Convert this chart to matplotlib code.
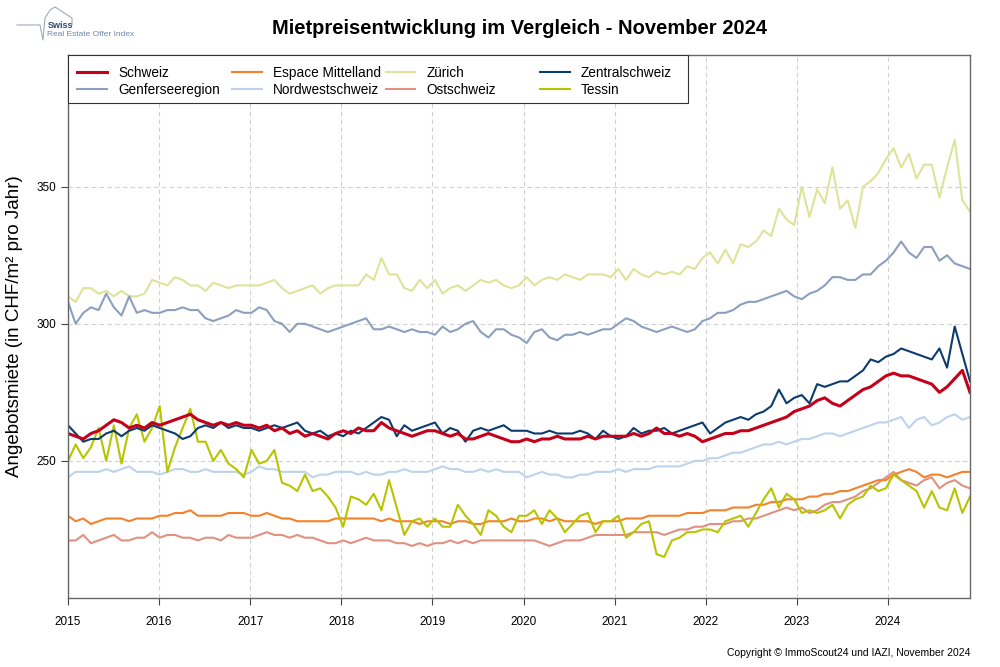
import numpy as np
import matplotlib
matplotlib.use("Agg")
import matplotlib.pyplot as plt
from matplotlib.lines import Line2D
from matplotlib.patches import Rectangle
from matplotlib.legend import Legend

plt.rcParams['font.family'] = ['Liberation Sans', 'DejaVu Sans']

# monthly values, Jan 2015 .. Nov 2024 (CHF/m2 per year)
schweiz = [
    260, 259, 258, 260, 261, 263, 265, 264, 262, 263, 262, 264,
    263, 264, 265, 266, 267, 265, 264, 263, 264, 263, 264, 263,
    263, 262, 263, 261, 262, 260, 261, 259, 260, 259, 258, 260,
    261, 260, 262, 261, 261, 264, 262, 261, 260, 259, 260, 261,
    261, 260, 259, 260, 258, 258, 259, 260, 259, 258, 257, 257,
    258, 257, 258, 258, 259, 258, 258, 258, 259, 258, 259, 259,
    259, 259, 260, 259, 260, 262, 260, 260, 259, 260, 259, 257,
    258, 259, 260, 260, 261, 261, 262, 263, 264, 265, 266, 268,
    269, 270, 272, 273, 271, 270, 272, 274, 276, 277, 279, 281,
    282, 281, 281, 280, 279, 278, 275, 277, 280, 283, 275]

genf = [
    308, 300, 304, 306, 305, 311, 306, 303, 310, 304, 305, 304,
    304, 305, 305, 306, 305, 305, 302, 301, 302, 303, 305, 304,
    304, 306, 305, 301, 300, 297, 300, 300, 299, 298, 297, 298,
    299, 300, 301, 302, 298, 298, 299, 298, 297, 298, 297, 297,
    296, 299, 297, 298, 300, 301, 297, 295, 298, 298, 296, 295,
    293, 297, 298, 295, 294, 296, 296, 297, 296, 297, 298, 298,
    300, 302, 301, 299, 298, 297, 298, 299, 298, 297, 298, 301,
    302, 304, 304, 305, 307, 308, 308, 309, 310, 311, 312, 310,
    309, 311, 312, 314, 317, 317, 316, 316, 318, 318, 321, 323,
    326, 330, 326, 324, 328, 328, 323, 325, 322, 321, 320]

espace = [
    230, 228, 229, 227, 228, 229, 229, 229, 228, 229, 229, 229,
    230, 230, 231, 231, 232, 230, 230, 230, 230, 231, 231, 231,
    230, 230, 231, 230, 229, 229, 228, 228, 228, 228, 228, 229,
    229, 229, 229, 229, 229, 228, 229, 228, 228, 228, 227, 228,
    228, 228, 227, 228, 228, 227, 227, 228, 228, 228, 229, 228,
    228, 229, 229, 228, 229, 228, 228, 228, 228, 227, 228, 228,
    228, 229, 229, 229, 230, 230, 230, 230, 230, 231, 231, 231,
    232, 232, 232, 233, 233, 233, 234, 234, 235, 235, 236, 236,
    236, 237, 237, 238, 238, 239, 239, 240, 241, 242, 243, 243,
    245, 246, 247, 246, 244, 245, 245, 244, 245, 246, 246]

nordwest = [
    244, 246, 246, 246, 246, 247, 246, 247, 248, 246, 246, 246,
    245, 246, 247, 247, 246, 246, 247, 246, 246, 246, 246, 245,
    246, 248, 247, 247, 246, 246, 246, 246, 244, 245, 245, 246,
    246, 246, 245, 246, 245, 245, 246, 246, 247, 246, 246, 246,
    247, 248, 247, 247, 246, 246, 247, 246, 247, 246, 246, 246,
    244, 245, 246, 245, 245, 244, 244, 245, 245, 246, 246, 246,
    247, 246, 247, 247, 247, 248, 248, 248, 248, 249, 250, 250,
    251, 251, 252, 253, 253, 254, 255, 256, 256, 257, 256, 257,
    258, 258, 259, 260, 260, 259, 260, 261, 262, 263, 264, 264,
    265, 266, 262, 265, 266, 263, 264, 266, 267, 265, 266]

zuerich = [
    310, 308, 313, 313, 311, 312, 310, 312, 310, 310, 311, 316,
    315, 314, 317, 316, 314, 314, 312, 315, 314, 313, 314, 314,
    314, 314, 315, 316, 313, 311, 312, 313, 314, 311, 313, 314,
    314, 314, 314, 318, 316, 324, 318, 318, 313, 312, 316, 313,
    316, 311, 313, 314, 312, 314, 316, 315, 316, 314, 313, 314,
    317, 314, 316, 317, 316, 318, 317, 316, 318, 318, 318, 317,
    320, 316, 320, 318, 317, 319, 318, 319, 318, 321, 320, 324,
    326, 322, 327, 322, 329, 328, 330, 334, 332, 342, 338, 336,
    350, 339, 349, 344, 357, 342, 345, 335, 350, 352, 355, 360,
    364, 357, 362, 353, 358, 358, 346, 357, 367, 345, 341]

ost = [
    221, 221, 223, 220, 221, 222, 223, 221, 221, 222, 222, 224,
    222, 223, 223, 222, 222, 221, 222, 222, 221, 223, 222, 222,
    222, 223, 224, 223, 223, 222, 223, 222, 222, 221, 220, 220,
    221, 220, 221, 222, 221, 221, 221, 220, 220, 219, 220, 219,
    220, 220, 221, 220, 221, 220, 221, 221, 221, 221, 221, 221,
    221, 221, 220, 219, 220, 221, 221, 221, 222, 223, 223, 223,
    223, 223, 224, 224, 224, 224, 223, 224, 225, 225, 226, 226,
    227, 227, 227, 228, 228, 229, 229, 230, 231, 232, 233, 232,
    233, 231, 232, 234, 235, 235, 236, 237, 239, 240, 242, 244,
    246, 243, 242, 241, 243, 244, 240, 242, 243, 241, 240]

zentral = [
    263, 260, 257, 258, 258, 260, 261, 259, 261, 262, 261, 263,
    262, 261, 260, 258, 259, 262, 263, 262, 264, 262, 263, 262,
    262, 261, 262, 263, 262, 263, 264, 261, 260, 261, 259, 260,
    259, 261, 260, 262, 264, 266, 265, 259, 263, 261, 262, 263,
    264, 260, 262, 261, 257, 261, 262, 261, 262, 263, 261, 261,
    261, 260, 260, 261, 260, 260, 260, 261, 260, 258, 261, 259,
    258, 259, 262, 260, 261, 261, 262, 260, 261, 262, 263, 264,
    260, 262, 264, 265, 266, 265, 267, 268, 270, 276, 271, 273,
    274, 271, 278, 277, 278, 279, 279, 281, 283, 287, 286, 288,
    289, 291, 290, 289, 288, 287, 291, 284, 299, 289, 279]

tessin = [
    250, 256, 251, 255, 262, 250, 263, 249, 262, 267, 257, 262,
    270, 246, 255, 262, 269, 257, 257, 250, 254, 249, 247, 244,
    254, 249, 250, 254, 242, 241, 239, 245, 239, 240, 237, 233,
    226, 237, 236, 234, 238, 232, 243, 233, 223, 228, 229, 226,
    229, 226, 226, 234, 230, 227, 223, 232, 230, 226, 224, 230,
    230, 232, 227, 232, 229, 224, 227, 230, 231, 224, 228, 228,
    230, 222, 224, 227, 228, 216, 215, 221, 222, 224, 224, 225,
    225, 224, 228, 229, 230, 226, 231, 236, 240, 233, 238, 236,
    231, 232, 231, 232, 234, 229, 234, 236, 237, 241, 239, 240,
    245, 243, 241, 239, 233, 239, 233, 232, 240, 231, 237]

names = ["Schweiz", "Genferseeregion", "Espace Mittelland", "Nordwestschweiz",
         "Zürich", "Ostschweiz", "Zentralschweiz", "Tessin"]
series = [schweiz, genf, espace, nordwest, zuerich, ost, zentral, tessin]
colors = ["#c4001a", "#8c9fbf", "#f5822a", "#bcd3ec",
          "#dde49a", "#e0917f", "#0b3b6f", "#b7c400"]
widths = [2.2, 1.5, 1.5, 1.5, 1.5, 1.5, 1.5, 1.5]

years = list(range(2015, 2025))
t = np.linspace(2015, 2024.9, len(schweiz))

fig = plt.figure(figsize=(10, 6.67), dpi=100)
ax = fig.add_axes([0.068, 0.1034, 0.902, 0.8141])

# draw order: background regions first, Schweiz on top
order = [4, 1, 3, 5, 2, 7, 6, 0]
handles = {}
for i in order:
    ln, = ax.plot(t, series[i], color=colors[i], lw=widths[i], label=names[i],
                  solid_joinstyle='round')
    handles[i] = ln

ax.set_xlim(2015, 2024.9)
ax.set_ylim(200, 398)
ax.set_xticks(years)
ax.set_xticklabels([str(y) for y in years])
ax.set_yticks([250, 300, 350])
ax.grid(True, color="#d0d0d0", ls=(0, (4, 3)), lw=0.8)
ax.tick_params(axis='both', labelsize=8.5, length=5, color="#444444", direction='out')
ax.tick_params(axis='x', pad=8)
for s in ax.spines.values():
    s.set_color("#666666")
    s.set_linewidth(1.0)

ax.set_ylabel("Angebotsmiete (in CHF/m² pro Jahr)", fontsize=13.5, labelpad=10)

# legend: equal-width columns, one frame around all of them
col_x = [0.0105, 0.182, 0.352, 0.523]
for c in range(4):
    leg = Legend(ax, [handles[2 * c], handles[2 * c + 1]], names[2 * c:2 * c + 2],
                 loc='upper left', bbox_to_anchor=(col_x[c], 0.98),
                 bbox_transform=ax.transAxes,
                 borderaxespad=0, borderpad=0, frameon=False, fontsize=9.8,
                 handlelength=2.2, labelspacing=0.22, handletextpad=0.8)
    leg.set_zorder(6)
    ax.add_artist(leg)
frame_box = Rectangle((0, 0.9116), 0.687, 0.0884, transform=ax.transAxes,
                      facecolor='white', edgecolor='#333333', lw=0.8, zorder=5)
ax.add_patch(frame_box)

fig.text(0.519, 0.958, "Mietpreisentwicklung im Vergleich - November 2024",
         ha='center', va='center', fontsize=14.5, fontweight='bold')
fig.text(0.970, 0.013, "Copyright © ImmoScout24 und IAZI, November 2024",
         ha='right', va='bottom', fontsize=7.5)

# logo
fig.text(0.048, 1 - 25 / 667, "Swiss", fontsize=6.5, fontweight='bold',
         color="#2b4a78", va='center')
fig.text(0.047, 1 - 34 / 667, "Real Estate Offer Index", fontsize=6,
         color="#6f86a6", va='center')
logo_px = [(17, 25), (40, 25), (43, 40), (45, 18), (50, 10), (55, 7), (72, 18), (72, 25)]
fig.add_artist(Line2D([p[0] / 1000 for p in logo_px], [1 - p[1] / 667 for p in logo_px],
                      color="#a0aab8", lw=0.8))

fig.savefig("out.png", dpi=100)
